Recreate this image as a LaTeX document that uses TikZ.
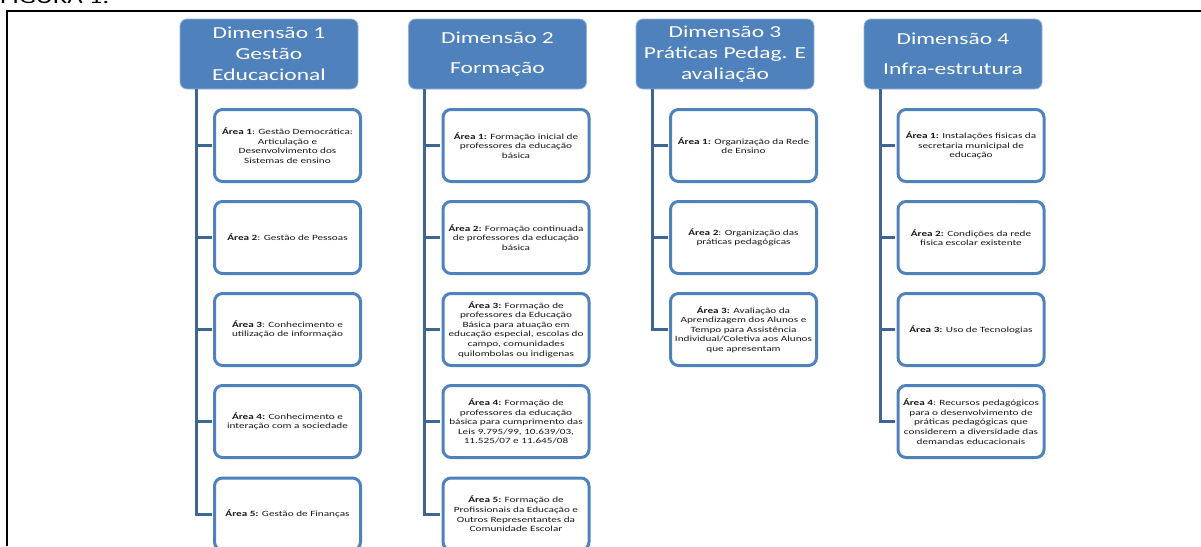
\documentclass[tikz,border=0pt]{standalone}
\usepackage{fontspec}
\setmainfont{Carlito}[FakeStretch=1.4]
\definecolor{hblue}{RGB}{79,129,189}
\definecolor{hborder}{RGB}{150,180,215}
\definecolor{conncol}{RGB}{63,101,148}
\definecolor{txt}{RGB}{25,25,25}
\tikzset{
  hdr/.style={draw=hborder, line width=0.8pt, fill=hblue, rounded corners=7pt,
    minimum width=178pt, minimum height=70pt, inner sep=0pt, text=white, align=center,
    font=\fontsize{16.8}{21}\selectfont},
  hdrwide/.style={hdr, font=\fontsize{16.8}{30}\selectfont},
  area/.style={draw=hblue, line width=3pt, fill=white, rounded corners=8pt,
    minimum width=146pt, minimum height=72pt, inner sep=0pt, text=txt, align=center,
    font=\fontsize{8}{9.6}\selectfont},
  conn/.style={draw=conncol, line width=3pt},
  frameline/.style={draw=black, line width=1.5pt}
}
\begin{document}
\begin{tikzpicture}[x=1pt,y=-1pt]
\useasboundingbox (0,0) rectangle (1201,546);
% frame and caption
\coordinate (fr0) at (7,546);
\coordinate (fr1) at (7,11);
\coordinate (fr2) at (1203,11);
\draw[frameline] (fr0) -- (fr1) -- (fr2);
\node[anchor=base west, inner sep=0pt, font=\fontsize{19}{22}\selectfont] (fig) at (0,3.5) {FIGURA 1:};

% headers
\node[hdr] (h1) at (269,54) {Dimensão 1\\Gestão\\Educacional};
\node[hdrwide] (h2) at (497.5,54) {Dimensão 2\\Formação};
\node[hdr] (h3) at (725,54) {Dimensão 3\\Práticas Pedag. E\\avaliação};
\node[hdrwide] (h4) at (953,54) {Dimensão 4\\Infra-estrutura};

% column 1
\node[area] (c11) at (287.5,145.5) {\textbf{Área 1}: Gestão Democrática:\\Articulação e\\Desenvolvimento dos\\Sistemas de ensino};
\node[area] (c12) at (287.5,237.5) {\textbf{Área 2}: Gestão de Pessoas};
\node[area] (c13) at (287.5,329.5) {\textbf{Área 3}: Conhecimento e\\utilização de informação};
\node[area] (c14) at (287.5,421.5) {\textbf{Área 4:} Conhecimento e\\interação com a sociedade};
\node[area] (c15) at (287.5,514) {\textbf{Área 5:} Gestão de Finanças};

% column 2
\node[area] (c21) at (516,145.5) {\textbf{Área 1:} Formação inicial de\\professores da educação\\básica};
\node[area] (c22) at (516,237.5) {\textbf{Área 2:} Formação continuada\\de professores da educação\\básica};
\node[area] (c23) at (516,329.5) {\textbf{Área 3:} Formação de\\professores da Educação\\Básica para atuação em\\educação especial, escolas do\\campo, comunidades\\quilombolas ou indigenas};
\node[area] (c24) at (516,421.5) {\textbf{Área 4:} Formação de\\professores da educação\\básica para cumprimento das\\Leis 9.795/99, 10.639/03,\\11.525/07 e 11.645/08};
\node[area] (c25) at (516,514) {\textbf{Área 5:} Formação de\\Profissionais da Educação e\\Outros Representantes da\\Comunidade Escolar};

% column 3
\node[area] (c31) at (743.5,145.5) {\textbf{Área 1:} Organização da Rede\\de Ensino};
\node[area] (c32) at (743.5,237.5) {\textbf{Área 2}: Organização das\\práticas pedagógicas};
\node[area] (c33) at (743.5,329.5) {\textbf{Área 3:} Avaliação da\\Aprendizagem dos Alunos e\\Tempo para Assistência\\Individual/Coletiva aos Alunos\\que apresentam};

% column 4
\node[area] (c41) at (971,145.5) {\textbf{Área 1:} Instalações fisicas da\\secretaria municipal de\\educação};
\node[area] (c42) at (971,237.5) {\textbf{Área 2:} Condições da rede\\fisica escolar existente};
\node[area] (c43) at (971,329.5) {\textbf{Área 3:} Uso de Tecnologias};
\node[area] (c44) at (971,421.5) {\textbf{Área 4}: Recursos pedagógicos\\para o desenvolvimento de\\práticas pedagógicas que\\considerem a diversidade das\\demandas educacionais};

% connectors
\foreach \k in {1,...,5} {
  \draw[conn] ([xshift=16.5pt]h1.south west) |- ([xshift=-1.5pt]c1\k.west);
  \draw[conn] ([xshift=16.5pt]h2.south west) |- ([xshift=-1.5pt]c2\k.west);
}
\foreach \k in {1,...,3} {
  \draw[conn] ([xshift=16.5pt]h3.south west) |- ([xshift=-1.5pt]c3\k.west);
}
\foreach \k in {1,...,4} {
  \draw[conn] ([xshift=16.5pt]h4.south west) |- ([xshift=-1.5pt]c4\k.west);
}
\end{tikzpicture}
\end{document}
